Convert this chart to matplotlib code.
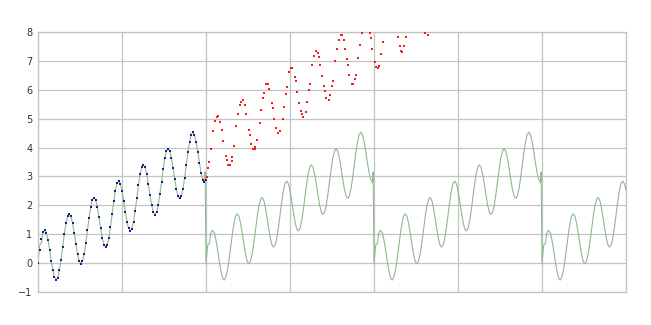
import numpy as np
import matplotlib
matplotlib.use('Agg')
import matplotlib.pyplot as plt

# x is counted in half-steps of the sampling grid: 102 half-steps per vertical gridline
blue_x = np.arange(0, 205, 2)
blue_y = [0.00, 0.44, 0.82, 1.06, 1.14, 1.05, 0.81, 0.47, 0.09, -0.25,
          -0.49, -0.59, -0.50, -0.25, 0.12, 0.56, 1.01, 1.38, 1.63, 1.71,
          1.62, 1.38, 1.04, 0.66, 0.31, 0.07, -0.02, 0.06, 0.31, 0.68,
          1.13, 1.57, 1.95, 2.19, 2.27, 2.18, 1.94, 1.60, 1.22, 0.88,
          0.64, 0.55, 0.63, 0.87, 1.25, 1.69, 2.14, 2.51, 2.76, 2.84,
          2.75, 2.51, 2.16, 1.78, 1.44, 1.20, 1.11, 1.19, 1.44, 1.81,
          2.26, 2.70, 3.07, 3.32, 3.40, 3.31, 3.07, 2.73, 2.35, 2.01,
          1.77, 1.68, 1.76, 2.00, 2.38, 2.82, 3.26, 3.64, 3.88, 3.96,
          3.87, 3.63, 3.29, 2.91, 2.57, 2.33, 2.24, 2.32, 2.57, 2.94,
          3.38, 3.83, 4.20, 4.45, 4.53, 4.44, 4.20, 3.86, 3.48, 3.13,
          2.89, 2.80, 2.88]

red_x = [205, 207, 208, 210, 213, 215, 217, 218, 221, 223, 225, 228, 229, 231,
         233, 235, 236, 238, 241, 243, 245, 246, 249, 251, 253, 256, 257, 259,
         261, 263, 264, 266, 269, 271, 273, 274, 277, 279, 281, 284, 285, 287,
         289, 291, 292, 294, 297, 299, 301, 302, 305, 307, 309, 312, 313, 315,
         317, 319, 320, 322, 325, 327, 329, 330, 333, 335, 337, 340, 341, 343,
         345, 347, 348, 350, 353, 355, 357, 358, 361, 363, 365, 368, 369, 371,
         373, 375, 376, 378, 381, 383, 385, 386, 389, 391, 393, 396, 397, 399,
         401, 403, 404, 406, 409, 411, 413, 414, 417, 419, 421, 424, 425, 427,
         429, 431, 432, 434, 437, 439, 441, 442, 445, 447, 449, 452, 453, 455,
         457, 459, 460, 462, 465, 467, 469, 470, 473, 475, 477, 480, 481, 483]
red_y = [2.99, 3.30, 3.50, 3.95, 4.59, 4.91, 5.07, 5.09, 4.90, 4.60, 4.23, 3.70, 3.56, 3.39,
         3.39, 3.55, 3.69, 4.07, 4.74, 5.16, 5.47, 5.58, 5.63, 5.46, 5.16, 4.60, 4.42, 4.13,
         3.96, 3.95, 4.01, 4.26, 4.85, 5.30, 5.72, 5.89, 6.20, 6.20, 6.03, 5.55, 5.36, 4.99,
         4.69, 4.52, 4.50, 4.58, 5.00, 5.41, 5.87, 6.08, 6.60, 6.77, 6.76, 6.45, 6.29, 5.92,
         5.55, 5.25, 5.15, 5.06, 5.24, 5.56, 5.98, 6.20, 6.85, 7.16, 7.33, 7.26, 7.15, 6.86,
         6.49, 6.12, 5.95, 5.71, 5.64, 5.81, 6.12, 6.32, 6.99, 7.41, 7.73, 7.91, 7.89, 7.72,
         7.42, 7.05, 6.86, 6.52, 6.21, 6.21, 6.37, 6.51, 7.11, 7.56, 7.98, 8.40, 8.46, 8.45,
         8.28, 7.98, 7.80, 7.42, 6.95, 6.78, 6.77, 6.83, 7.25, 7.67, 8.12, 8.71, 8.86, 9.02,
         9.02, 8.85, 8.71, 8.37, 7.81, 7.51, 7.34, 7.32, 7.50, 7.82, 8.23, 8.90, 9.10, 9.42,
         9.59, 9.58, 9.51, 9.27, 8.74, 8.37, 8.07, 7.97, 7.90, 8.06, 8.38, 9.02, 9.25, 9.67]

# the green line repeats the blue shape every two grid columns (with a glitch at each wrap)
green_seg_x = list(range(0, 203, 2)) + [203]
green_seg_y = [0.00, 0.62, 0.68] + blue_y[3:102] + [3.16]
green_starts = [0, 204, 408, 612]
x_end = 714

gx, gy = [], []
for s in green_starts:
    for xx, yy in zip(green_seg_x, green_seg_y):
        if s + xx <= x_end:
            gx.append(s + xx)
            gy.append(yy)

fig = plt.figure(figsize=(6.51, 3.25), dpi=100)
ax = fig.add_axes([38/651, 1-292/325, 588/651, 260/325])

ax.plot(gx, gy, color='#90b890', lw=0.8, zorder=2)
ax.plot(blue_x, blue_y, 's', color='#1c1c8a', ms=1.7, mew=0, zorder=3)
ax.plot(red_x, red_y, 's', color='#ff1a1a', ms=2.0, mew=0, zorder=3)

ax.set_xlim(0, x_end)
ax.set_ylim(-1, 8)
ax.set_yticks(range(-1, 9))
ax.set_xticks(range(0, x_end + 1, 102))
ax.set_xticklabels([])
ax.grid(True, color='#c4c4c4', lw=0.9)
ax.set_axisbelow(True)
ax.tick_params(length=0, labelsize=7, labelcolor='#333333', pad=4)
for sp in ax.spines.values():
    sp.set_color('#c4c4c4')
    sp.set_linewidth(0.9)

fig.savefig('out.png', dpi=100)
